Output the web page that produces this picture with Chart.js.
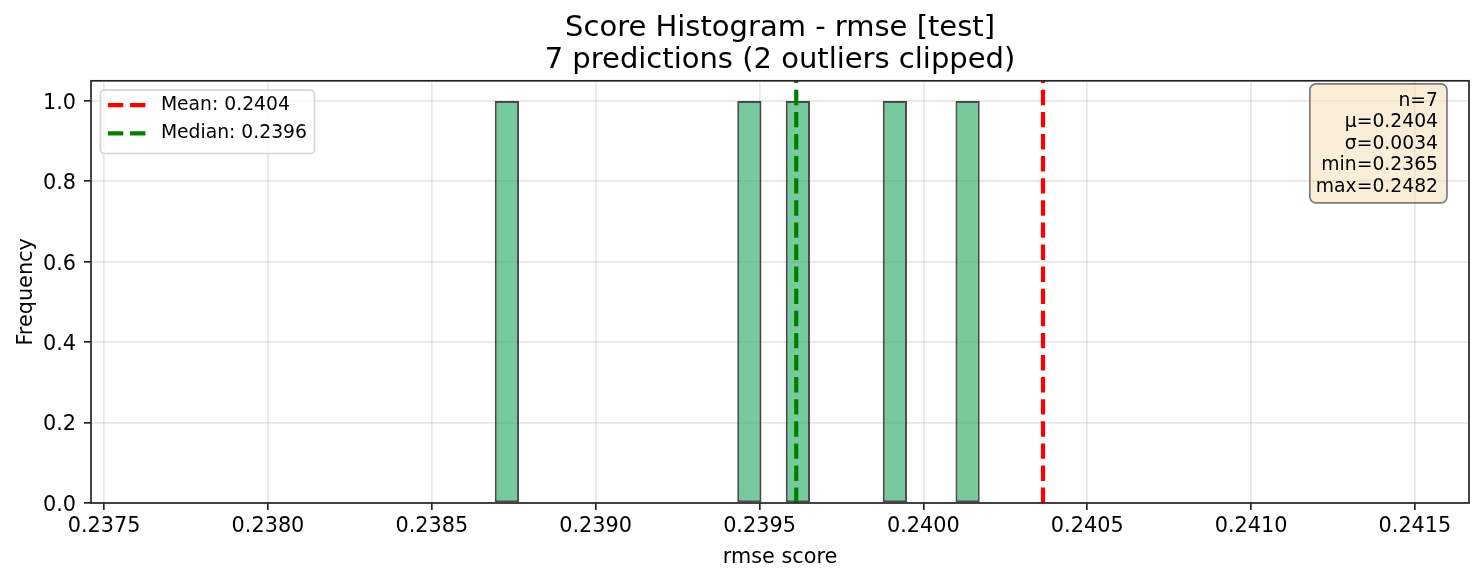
<!DOCTYPE html>
<html>
<head>
<meta charset="utf-8">
<script src="https://cdn.jsdelivr.net/npm/chart.js@4.4.1/dist/chart.umd.min.js"></script>
<style>
    body { margin: 0; background: #fff; }
    canvas { display: block; }
</style>
</head>
<body>
<canvas id="myChart" width="1484" height="581"></canvas>
<script>
var title_lines = ['Score Histogram - rmse [test]', '7 predictions (2 outliers clipped)'];
// histogram bins (20 bins) and counts per bin
var bin_edges = [0.238692, 0.238766, 0.238840, 0.238914, 0.238988, 0.239062, 0.239136,
    0.239210, 0.239284, 0.239358, 0.239432, 0.239506, 0.239580, 0.239654,
    0.239728, 0.239802, 0.239876, 0.239950, 0.240024, 0.240098, 0.240172];
var bin_counts = [1, 0, 0, 0, 0, 0, 0, 0, 0, 0, 1, 0, 1, 0, 0, 0, 1, 0, 0, 1];
var mean_value = 0.240365;
var median_value = 0.239612;
var x_ticks = [0.2375, 0.2380, 0.2385, 0.2390, 0.2395, 0.2400, 0.2405, 0.2410, 0.2415];
var y_ticks = [0.0, 0.2, 0.4, 0.6, 0.8, 1.0];
var x_limits = [0.23746, 0.241665];
var y_limits = [0, 1.05];
var stat_names = ['n', 'μ', 'σ', 'min', 'max'];
var stat_values = ['7', '0.2404', '0.0034', '0.2365', '0.2482'];

Chart.defaults.font.family = '"DejaVu Sans", sans-serif';
Chart.defaults.color = '#000';

var hist_points = [];
for (let i = 0; i < bin_counts.length; i++) {
    hist_points.push({ x: (bin_edges[i] + bin_edges[i + 1]) / 2, y: bin_counts[i] });
}

var grid_opts = {
    color: 'rgba(176,176,176,0.3)',
    lineWidth: 1.67,
    tickColor: '#222',
    tickWidth: 1.67,
    tickLength: 7,
    offset: false
};

// frame, legend and stats box drawn on top of the data, like matplotlib does
var overlays = {
    id: 'overlays',
    afterDatasetsDraw(chart) {
        const ctx = chart.ctx;
        const a = chart.chartArea;
        ctx.save();
        // axes frame
        ctx.strokeStyle = '#222';
        ctx.lineWidth = 1.67;
        ctx.strokeRect(a.left, a.top, a.right - a.left, a.bottom - a.top);

        // legend
        const fs = 18.75;
        ctx.font = fs + 'px "DejaVu Sans"';
        const items = chart.data.datasets.filter(d => d.type === 'line');
        let textW = 0;
        items.forEach(d => { textW = Math.max(textW, ctx.measureText(d.label).width); });
        const lx = a.left + 9.4, ly = a.top + 9.4;
        const lw = 7.5 + 37.5 + 15.5 + textW + 7.5;
        const row = 28.15;
        const lh = items.length * row + 7;
        ctx.beginPath();
        ctx.roundRect(lx, ly, lw, lh, 4);
        ctx.fillStyle = 'rgba(255,255,255,0.8)';
        ctx.fill();
        ctx.strokeStyle = 'rgba(204,204,204,0.8)';
        ctx.lineWidth = 1.67;
        ctx.stroke();
        items.forEach((d, i) => {
            const cy = ly + 15 + i * row;
            ctx.beginPath();
            ctx.setLineDash(d.borderDash);
            ctx.strokeStyle = d.borderColor;
            ctx.lineWidth = d.borderWidth;
            ctx.moveTo(lx + 7.5, cy);
            ctx.lineTo(lx + 45, cy);
            ctx.stroke();
            ctx.setLineDash([]);
            ctx.fillStyle = '#000';
            ctx.textAlign = 'left';
            ctx.textBaseline = 'middle';
            ctx.fillText(d.label, lx + 60.5, cy);
        });

        // stats box
        const lines = stat_names.map((n, i) => n + '=' + stat_values[i]);
        let sw = 0;
        lines.forEach(t => { sw = Math.max(sw, ctx.measureText(t).width); });
        const tr = a.right - 31;
        const top = a.top + 3;
        const sp = 21.6;
        ctx.beginPath();
        ctx.roundRect(tr - sw - 6, top, sw + 15, 119, 6);
        ctx.fillStyle = 'rgba(245,222,179,0.5)';
        ctx.fill();
        ctx.strokeStyle = 'rgba(0,0,0,0.5)';
        ctx.lineWidth = 1.67;
        ctx.stroke();
        ctx.fillStyle = '#000';
        ctx.textAlign = 'right';
        ctx.textBaseline = 'middle';
        lines.forEach((t, i) => { ctx.fillText(t, tr, top + 17 + i * sp); });
        ctx.restore();
    }
};

var ctx = document.getElementById('myChart');
var chart = new Chart(ctx, {
    type: 'bar',
    data: {
        datasets: [
            {
                type: 'line',
                label: 'Mean: ' + mean_value.toFixed(4),
                data: [{ x: mean_value, y: y_limits[0] }, { x: mean_value, y: y_limits[1] }],
                borderColor: '#ff0000',
                borderWidth: 4.2,
                borderDash: [15.4, 6.7],
                pointRadius: 0,
                fill: false,
                order: 2
            },
            {
                type: 'line',
                label: 'Median: ' + median_value.toFixed(4),
                data: [{ x: median_value, y: y_limits[0] }, { x: median_value, y: y_limits[1] }],
                borderColor: '#008000',
                borderWidth: 4.2,
                borderDash: [15.4, 6.7],
                pointRadius: 0,
                fill: false,
                order: 1
            },
            {
                type: 'bar',
                label: 'counts',
                data: hist_points,
                backgroundColor: 'rgba(60,179,113,0.7)',
                borderColor: 'rgba(0,0,0,0.7)',
                borderWidth: 2,
                borderSkipped: false,
                inflateAmount: 0,
                barPercentage: 1,
                categoryPercentage: 1,
                order: 3
            }
        ]
    },
    options: {
        responsive: false,
        animation: false,
        layout: { padding: { left: 0, right: 15, top: 0, bottom: 0 } },
        scales: {
            x: {
                type: 'linear',
                min: x_limits[0],
                max: x_limits[1],
                offset: false,
                afterBuildTicks: s => { s.ticks = x_ticks.map(v => ({ value: v })); },
                afterFit: s => { s.height = 78; },
                ticks: {
                    callback: v => Number(v).toFixed(4),
                    font: { size: 20.8 },
                    color: '#000',
                    padding: 4,
                    maxRotation: 0,
                    autoSkip: false
                },
                grid: grid_opts,
                border: { display: false },
                title: {
                    display: true,
                    text: 'rmse score',
                    font: { size: 20.8 },
                    color: '#000',
                    padding: { top: 0, bottom: 10.5 }
                }
            },
            y: {
                min: y_limits[0],
                max: y_limits[1],
                afterBuildTicks: s => { s.ticks = y_ticks.map(v => ({ value: v })); },
                afterFit: s => { s.width = 91; },
                ticks: {
                    callback: v => Number(v).toFixed(1),
                    font: { size: 20.8 },
                    color: '#000',
                    padding: 8,
                    labelOffset: 2.5
                },
                grid: grid_opts,
                border: { display: false },
                title: {
                    display: true,
                    text: 'Frequency',
                    font: { size: 20.8 },
                    color: '#000',
                    padding: { top: 14, bottom: 0 }
                }
            }
        },
        plugins: {
            legend: { display: false },
            tooltip: { enabled: false },
            title: {
                display: true,
                fullSize: false,
                text: title_lines,
                font: { size: 29, weight: 'normal', lineHeight: 1.1 },
                color: '#000',
                padding: { top: 12.5, bottom: 4.5 }
            }
        }
    },
    plugins: [overlays]
});
</script>
</body>
</html>
